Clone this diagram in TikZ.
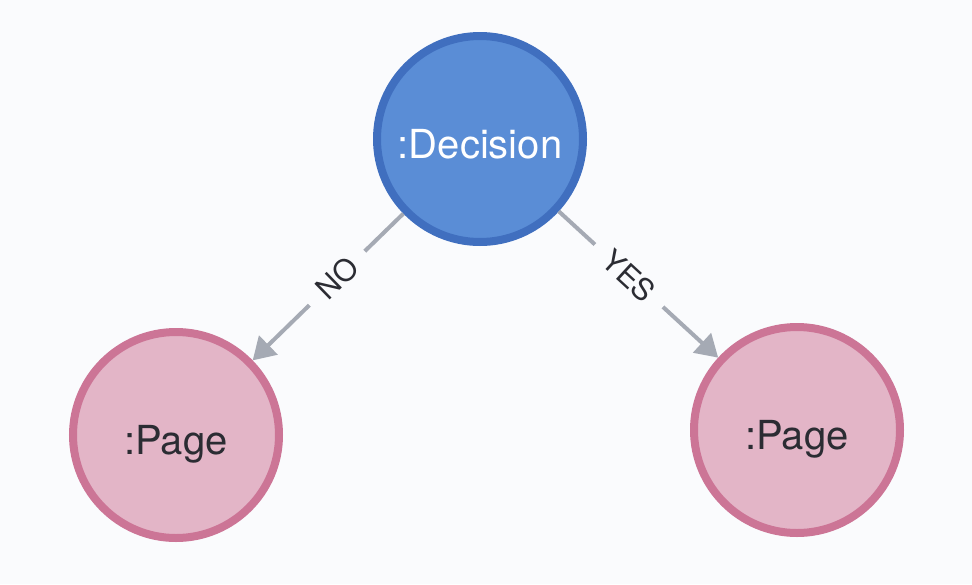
\documentclass[tikz,border=0pt]{standalone}
\usepackage{fontspec}
\setmainfont{TeX Gyre Heros}
\usetikzlibrary{positioning,arrows.meta}
\definecolor{bgcol}{HTML}{FAFBFD}
\definecolor{decfill}{HTML}{5A8DD6}
\definecolor{decline}{HTML}{406FBF}
\definecolor{pgfillc}{HTML}{E3B5C7}
\definecolor{pgline}{HTML}{CC7596}
\definecolor{relcol}{HTML}{A5AAB4}
\definecolor{txtcol}{HTML}{2B2C33}
\tikzstyle{dec}=[circle, draw=decline, fill=decfill, line width=8pt, minimum size=206pt, inner sep=0pt, text=white, font=\fontsize{40}{48}\selectfont, text height=39pt, text depth=0pt]
\tikzstyle{pg}=[circle, draw=pgline, fill=pgfillc, line width=8pt, minimum size=206pt, inner sep=0pt, text=txtcol, font=\fontsize{40}{48}\selectfont, text height=39pt, text depth=0pt]
\tikzstyle{rel}=[fill=bgcol, sloped, text=txtcol, inner xsep=16pt, inner ysep=2pt, font=\fontsize{30}{36}\selectfont]

\begin{document}
\begin{tikzpicture}[x=1pt,y=-1pt,on grid,>={Triangle[length=22pt,width=26pt]}]
\fill[bgcol] (0,0) rectangle (972,584);
\useasboundingbox (0,0) rectangle (972,584);

  \node[dec] at (480,139) (decision) {:Decision};
  \node[pg, below left = 296pt and 304pt of decision] (pageno) {:Page};
  \node[pg, below right = 291pt and 317pt of decision] (pageyes) {:Page};

\draw[->,line width=4pt,draw=relcol,fill=relcol] (decision) -- node[rel, pos=0.44] (relno) {NO} (pageno);
\draw[->,line width=4pt,draw=relcol,fill=relcol] (decision) -- node[rel, pos=0.44] (relyes) {YES} (pageyes);
\end{tikzpicture}
\end{document}
